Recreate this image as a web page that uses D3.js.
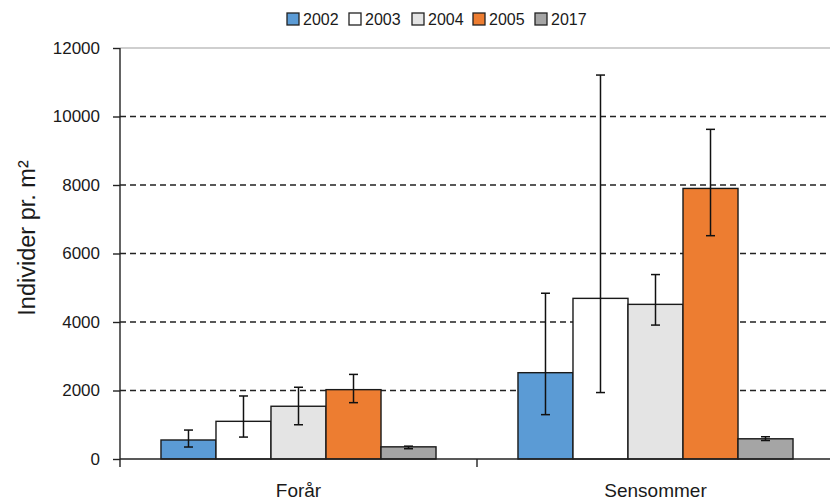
<!DOCTYPE html>
<html>
<head>
<meta charset="utf-8">
<script src="https://cdn.jsdelivr.net/npm/d3@7"></script>
<style>
  html, body { margin: 0; padding: 0; background: #fff; }
  svg { display: block; font-family: "Liberation Sans", Arial, sans-serif; }
</style>
</head>
<body>
<svg id="chart" width="830" height="501"></svg>
<script>
// Season groups and sampling years
const categories = ["Forår", "Sensommer"];
const years = ["2002", "2003", "2004", "2005", "2017"];
const yearColors = ["#5B9BD5", "#FFFFFF", "#E4E4E4", "#ED7D31", "#A5A5A5"];

// Mean density (individuals per m²) for each year, per season
const forarMean = [555, 1100, 1540, 2025, 355];
const sensommerMean = [2520, 4690, 4515, 7900, 590];

// Error bar limits
const forarLow = [350, 640, 1000, 1645, 300];
const forarHigh = [845, 1840, 2095, 2470, 375];
const sensommerLow = [1295, 1940, 3910, 6520, 540];
const sensommerHigh = [4840, 11210, 5385, 9625, 650];

const yTicks = [0, 2000, 4000, 6000, 8000, 10000, 12000];

const rows = [
  { cat: categories[0], mean: forarMean, low: forarLow, high: forarHigh },
  { cat: categories[1], mean: sensommerMean, low: sensommerLow, high: sensommerHigh }
];

const svg = d3.select("#chart");
const plotLeft = 120, plotRight = 834, plotTop = 48, plotBottom = 459;

const y = d3.scaleLinear().domain([0, 12000]).range([plotBottom, plotTop]);
const x0 = d3.scaleBand().domain(categories).range([plotLeft, plotRight]).padding(0);
const x1 = d3.scaleBand().domain(years).range([0, x0.bandwidth()])
  .paddingInner(0).paddingOuter(0.745);
const color = d3.scaleOrdinal().domain(years).range(yearColors);

// Top border of the plot area
svg.append("line")
  .attr("x1", plotLeft).attr("x2", plotRight)
  .attr("y1", y(12000)).attr("y2", y(12000))
  .attr("stroke", "#a0a0a0").attr("stroke-width", 1.2);

// Dashed horizontal gridlines
svg.append("g").selectAll("line")
  .data(yTicks.filter(t => t > 0 && t < 12000))
  .join("line")
  .attr("x1", plotLeft).attr("x2", plotRight)
  .attr("y1", d => y(d)).attr("y2", d => y(d))
  .attr("stroke", "#222").attr("stroke-width", 1.3)
  .attr("stroke-dasharray", "6,4");

// Bars
const groups = svg.append("g").selectAll("g")
  .data(rows)
  .join("g")
  .attr("transform", d => `translate(${x0(d.cat)},0)`);

groups.selectAll("rect")
  .data(d => years.map((yr, i) => ({ yr, v: d.mean[i] })))
  .join("rect")
  .attr("x", d => x1(d.yr))
  .attr("y", d => y(d.v))
  .attr("width", x1.bandwidth())
  .attr("height", d => y(0) - y(d.v))
  .attr("fill", d => color(d.yr))
  .attr("stroke", "#1a1a1a")
  .attr("stroke-width", 1.4);

// Error bars
const errs = groups.selectAll("g.err")
  .data(d => years.map((yr, i) => ({ yr, lo: d.low[i], hi: d.high[i] })))
  .join("g")
  .attr("class", "err")
  .attr("transform", d => `translate(${x1(d.yr) + x1.bandwidth() / 2},0)`)
  .attr("stroke", "#111").attr("stroke-width", 1.5);

errs.append("line")
  .attr("y1", d => y(d.lo)).attr("y2", d => y(d.hi));
errs.append("line")
  .attr("x1", -4.5).attr("x2", 4.5)
  .attr("y1", d => y(d.lo)).attr("y2", d => y(d.lo));
errs.append("line")
  .attr("x1", -4.5).attr("x2", 4.5)
  .attr("y1", d => y(d.hi)).attr("y2", d => y(d.hi));

// Y axis
const yAxis = svg.append("g")
  .attr("transform", `translate(${plotLeft},0)`)
  .call(d3.axisLeft(y).tickValues(yTicks).tickSize(7).tickPadding(13).tickFormat(d3.format("d")));
yAxis.select(".domain").attr("stroke", "#222").attr("stroke-width", 1.4)
  .attr("d", `M0,${plotBottom + 8}V${plotTop}`);
yAxis.selectAll(".tick line").attr("stroke", "#222").attr("stroke-width", 1.4);
yAxis.selectAll(".tick text")
  .attr("font-size", 17).attr("fill", "#1a1a1a")
  .attr("font-family", '"Liberation Sans", Arial, sans-serif');

// X axis
svg.append("line")
  .attr("x1", plotLeft).attr("x2", plotRight)
  .attr("y1", plotBottom).attr("y2", plotBottom)
  .attr("stroke", "#222").attr("stroke-width", 1.4);
svg.append("g").selectAll("line")
  .data(categories.slice(1))
  .join("line")
  .attr("x1", d => x0(d)).attr("x2", d => x0(d))
  .attr("y1", plotBottom).attr("y2", plotBottom + 8)
  .attr("stroke", "#222").attr("stroke-width", 1.4);
svg.append("g").selectAll("text")
  .data(categories)
  .join("text")
  .attr("x", d => x0(d) + x0.bandwidth() / 2)
  .attr("y", 497)
  .attr("text-anchor", "middle")
  .attr("font-size", 19)
  .attr("fill", "#1a1a1a")
  .text(d => d);

// Y axis title
svg.append("text")
  .attr("transform", `translate(35,238) rotate(-90)`)
  .attr("text-anchor", "middle")
  .attr("font-size", 23.5)
  .attr("fill", "#1a1a1a")
  .text("Individer pr. m²");

// Legend
const legendX = [287, 349, 412, 473, 535];
const legend = svg.append("g").selectAll("g")
  .data(years)
  .join("g")
  .attr("transform", (d, i) => `translate(${legendX[i]},13)`);
legend.append("rect")
  .attr("width", 12).attr("height", 12)
  .attr("fill", d => color(d))
  .attr("stroke", "#222").attr("stroke-width", 1.3);
legend.append("text")
  .attr("x", 16).attr("y", 12)
  .attr("font-size", 16)
  .attr("fill", "#1a1a1a")
  .text(d => d);
</script>
</body>
</html>
